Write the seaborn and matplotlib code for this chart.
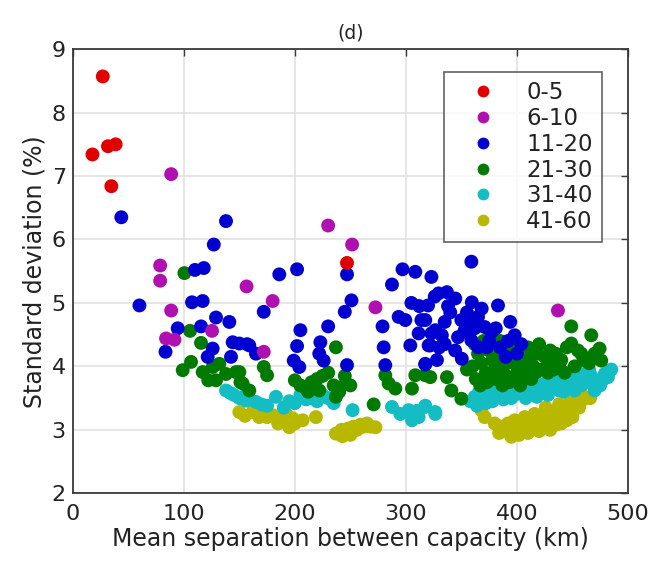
import matplotlib
matplotlib.use("Agg")
import matplotlib.pyplot as plt
import numpy as np
import pandas as pd
import seaborn as sns

groups = ['0-5', '6-10', '11-20', '21-30', '31-40', '41-60']
colors = ['#e00000', '#b010b0', '#0000d0', '#007a00', '#14bcc4', '#b8b800']

red_x = [17.7, 27, 31.7, 38.6, 34.7, 247]
red_y = [7.34, 8.57, 7.47, 7.5, 6.84, 5.63]

mag_x = [88.6, 78.7, 78.7, 88.6, 84, 91.6, 125.4, 156.5, 180, 172, 230, 251.6, 272.6, 437]
mag_y = [7.03, 5.59, 5.35, 4.88, 4.44, 4.42, 4.56, 5.26, 5.03, 4.23, 6.22, 5.92, 4.93, 4.88]

blue_x = [43.7, 60, 83.5, 94.5, 107.4, 117, 110, 118, 127, 138, 129, 141, 115.5, 126, 121.5,
          144, 157, 165, 142.5, 150, 159, 172, 186, 202, 205, 230, 202, 199, 204, 223, 222, 226,
          247, 247, 251, 245, 287.5, 297, 308.5, 323, 326, 320, 279, 293.5, 299.5, 314, 311.5,
          323, 280, 281.5, 304, 322, 317.5, 359, 329.4, 337, 344.5, 359.4, 368.3, 383, 317.5,
          326.5, 332.4, 350, 353, 347, 365, 371, 377, 394, 398, 320.5, 344.4, 350.4, 359, 317.5,
          340, 355, 375, 385, 365, 390, 400,
          305, 312, 335, 338, 362, 358, 373, 381, 392, 404, 335, 328, 330]
blue_y = [6.35, 4.96, 4.23, 4.6, 5.01, 5.03, 5.52, 5.55, 5.92, 6.29, 4.77, 4.7, 4.63, 4.28, 4.15,
          4.38, 4.35, 4.2, 4.15, 4.36, 4.33, 4.86, 5.45, 5.53, 4.57, 4.63, 4.32, 4.09, 3.99, 4.38, 4.2, 4.09,
          4.02, 5.45, 5.04, 4.86, 5.29, 5.53, 5.49, 5.41, 5.1, 4.96, 4.63, 4.78, 4.73, 4.73, 4.52,
          4.52, 4.3, 4.02, 4.33, 4.33, 4.03, 5.65, 5.15, 5.17, 5.07, 5.01, 4.91, 4.96, 4.73,
          4.57, 4.49, 4.73, 4.57, 4.46, 4.78, 4.62, 4.54, 4.7, 4.49, 4.33, 4.25, 4.12, 4.41, 4.04,
          4.85, 4.85, 4.4, 4.3, 4.3, 4.15, 4.2,
          5.0, 4.95, 4.7, 4.95, 4.6, 4.75, 4.3, 4.6, 4.4, 4.35, 4.35, 4.1, 4.3]

green_x = [100.5, 105.6, 115.5, 99, 106.5, 117, 126, 132, 138, 147, 151, 122, 129,
           150, 153, 159, 172, 175, 200, 205, 210, 215, 220, 225, 230, 235, 240, 237, 245.6, 237,
           212, 222, 281.5, 284.5, 290.5, 308.5, 322, 305.5, 271, 317.5, 337, 341, 350,
           360, 365, 368, 372, 375, 378, 380, 383, 386, 388, 390, 392, 395, 397, 400, 402, 405,
           408, 410, 412, 415, 418, 420, 362, 370,
           425, 430, 435, 440, 445, 449, 455, 449, 467, 474.5, 476, 430, 438, 460, 245, 250,
           355, 363, 367, 373, 381, 387, 393, 398, 403, 406, 413, 417, 422, 385, 377, 396,
           428, 433, 443, 452, 465, 458, 470]
green_y = [5.47, 4.56, 4.37, 3.94, 4.07, 3.91, 3.99, 4.04, 3.88, 3.91, 3.75, 3.78, 3.78,
           3.91, 3.73, 3.62, 3.99, 3.86, 3.78, 3.7, 3.65, 3.75, 3.8, 3.85, 3.9, 3.7, 3.6, 4.3, 3.73, 3.52,
           3.6, 3.62, 3.86, 3.73, 3.65, 3.86, 3.83, 3.65, 3.4, 3.86, 3.83, 3.62, 3.49,
           4.0, 4.2, 4.05, 3.9, 4.25, 4.1, 3.95, 4.3, 4.15, 4.0, 3.85, 4.2, 4.35, 4.05, 3.9, 4.2, 4.1,
           3.95, 4.3, 4.15, 4.0, 4.2, 4.35, 4.35, 4.4,
           4.15, 4.05, 4.2, 4.1, 4.3, 4.36, 4.25, 4.63, 4.49, 4.28, 4.09, 4.25, 4.0, 4.1, 3.85, 3.7,
           3.95, 3.8, 3.7, 3.75, 3.8, 3.7, 3.75, 3.8, 3.7, 3.85, 3.8, 3.9, 3.95, 4.4, 3.85, 4.25,
           3.9, 3.95, 3.9, 4.0, 4.05, 4.2, 4.2]

cyan_x = [138, 142, 145, 150, 156, 153, 165, 170, 175, 183, 190, 195, 205, 210, 215, 220, 225, 230, 235, 200,
          252, 287.5, 302.5, 317.5, 326.5, 305.5, 311.5, 317.5, 326.5, 295, 310,
          362, 366, 370, 375, 380, 385, 390, 395, 400, 405, 410, 415, 419, 372,
          425, 430, 435, 440, 445, 450, 455, 460, 465, 467, 479, 482, 470, 475, 485, 442, 452,
          358, 364, 378, 388, 398, 408, 418, 428, 438, 448, 458, 468, 477]
cyan_y = [3.62, 3.58, 3.55, 3.5, 3.46, 3.52, 3.44, 3.4, 3.38, 3.52, 3.35, 3.45, 3.55, 3.48, 3.5, 3.45, 3.55, 3.5, 3.42, 3.42,
          3.31, 3.36, 3.31, 3.38, 3.28, 3.15, 3.2, 3.36, 3.25, 3.25, 3.3,
          3.52, 3.6, 3.5, 3.65, 3.55, 3.7, 3.6, 3.5, 3.65, 3.7, 3.6, 3.72, 3.65, 3.42,
          3.73, 3.65, 3.8, 3.7, 3.85, 3.75, 3.9, 3.8, 3.95, 3.85, 3.88, 3.83, 3.62, 3.7, 3.95, 3.6, 3.62,
          3.45, 3.38, 3.45, 3.48, 3.55, 3.5, 3.52, 3.55, 3.62, 3.68, 3.7, 3.72, 3.78]

yel_x = [150, 155, 162, 168, 180, 189, 195, 192, 175, 185, 200, 198, 207, 219,
         237, 240, 242, 245, 248, 250, 253, 256, 259, 262, 265, 268, 272.6, 243, 250,
         368, 371, 380,
         384, 386, 390, 392, 395, 398, 398, 400, 402, 403, 405, 407, 408, 410, 413, 415, 416, 418, 420,
         423, 425, 426, 428, 430, 430, 433, 436, 438, 440, 440, 443, 446, 448, 450, 450, 453, 456,
         458, 460, 461, 466, 410, 420, 435, 445]
yel_y = [3.28, 3.22, 3.28, 3.2, 3.23, 3.15, 3.04, 3.25, 3.2, 3.1, 3.1, 3.18, 3.15, 3.2,
         2.94, 2.94, 3.0, 2.95, 3.02, 2.98, 3.05, 3.0, 3.08, 3.05, 3.1, 3.05, 3.04, 2.9, 2.92,
         3.31, 3.2, 3.1,
         2.95, 3.05, 3.0, 3.1, 2.89, 2.95, 3.15, 3.05, 2.92, 3.0, 3.12, 3.2, 2.98, 3.08, 3.15, 3.02, 3.25, 3.1, 3.2,
         3.05, 3.15, 3.35, 3.25, 3.1, 3.0, 3.2, 3.3, 3.4, 3.2, 3.1, 3.3, 3.38, 3.45, 3.3, 3.2, 3.42, 3.35,
         3.55, 3.48, 3.52, 3.5, 2.95, 2.98, 3.08, 3.15]

xs = [red_x, mag_x, blue_x, green_x, cyan_x, yel_x]
ys = [red_y, mag_y, blue_y, green_y, cyan_y, yel_y]

frames = []
for g, x, y in zip(groups, xs, ys):
    frames.append(pd.DataFrame({'x': x, 'y': y, 'group': g}))
# draw the larger groups first so the sparse ones sit on top
df = pd.concat(frames[::-1], ignore_index=True)

sns.set_style("white")
plt.rcParams['font.family'] = ['DejaVu Sans']

fig = plt.figure(figsize=(6.5, 5.65), dpi=100)
ax = fig.add_axes([0.112, 0.127, 0.966 - 0.112, 0.913 - 0.127])

sns.scatterplot(data=df, x='x', y='y', hue='group', hue_order=groups,
                palette=dict(zip(groups, colors)), s=100, linewidth=0, ax=ax, zorder=3)

ax.set_xlim(0, 500)
ax.set_ylim(2, 9)
ax.set_xticks([0, 100, 200, 300, 400, 500])
ax.set_yticks([2, 3, 4, 5, 6, 7, 8, 9])
ax.grid(True, color='#e2e2e2', linewidth=1.2, zorder=0)
ax.set_axisbelow(True)
for sp in ax.spines.values():
    sp.set_color('#3a3a3a')
    sp.set_linewidth(1.3)
ax.tick_params(direction='in', top=True, right=True, length=5, width=1,
               labelsize=16, colors='#3a3a3a', labelcolor='#222222')
ax.tick_params(axis='x', pad=8)
ax.tick_params(axis='y', pad=5)

ax.set_xlabel('Mean separation between capacity (km)', fontsize=17, color='#222222', labelpad=2)
ax.set_ylabel('Standard deviation (%)', fontsize=17, color='#222222', labelpad=4)
ax.set_title('(d)', fontsize=13.5, color='#222222', pad=8)

handles, labels = ax.get_legend_handles_labels()
leg = ax.legend(handles, labels, loc='upper right', bbox_to_anchor=(0.953, 0.948),
                borderaxespad=0, frameon=True, fancybox=False, fontsize=16.5,
                handletextpad=0.6, labelspacing=0.12, borderpad=0.4, handlelength=2.6,
                markerscale=0.85)
leg.get_frame().set_edgecolor('#3a3a3a')
leg.get_frame().set_linewidth(1.2)
for t in leg.get_texts():
    t.set_color('#222222')

fig.savefig('out.png', dpi=100)
